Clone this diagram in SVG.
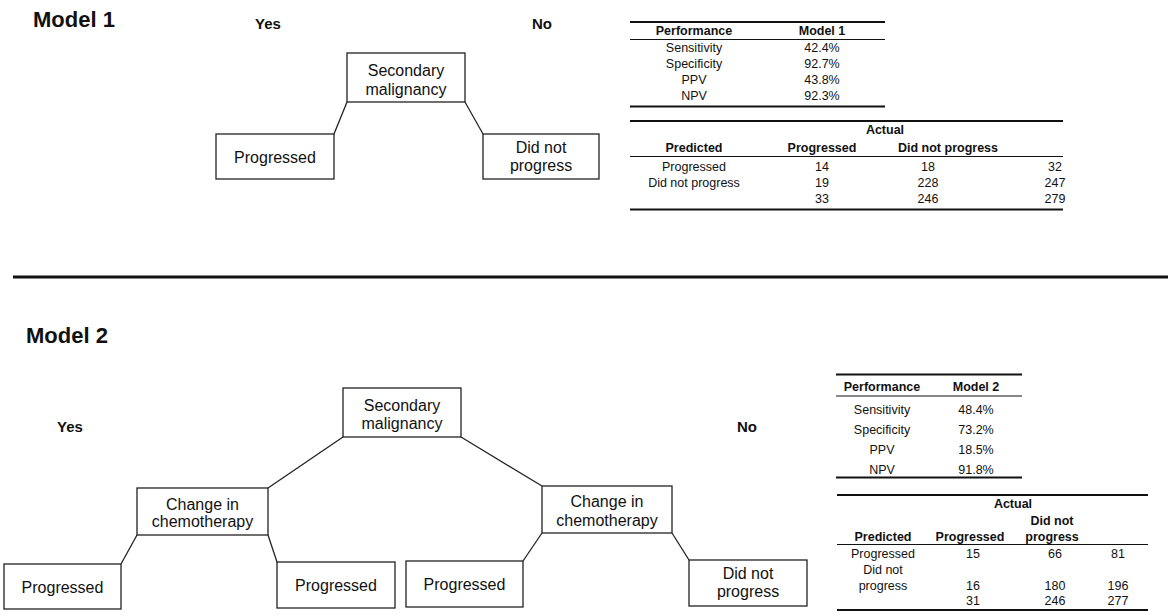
<svg xmlns="http://www.w3.org/2000/svg" width="1173" height="616" viewBox="0 0 1173 616">
<style>
text{font-family:"Liberation Sans",Arial,sans-serif;fill:#111}
.title{font-size:22px;font-weight:bold}
.yn{font-size:15px;font-weight:bold}
.node rect{fill:#fff;stroke:#222;stroke-width:1.3}
.node text{font-size:16px;text-anchor:middle}
.conn line{stroke:#222;stroke-width:1.3}
.tb text{font-size:12.5px;text-anchor:middle}
.tb .h{font-weight:bold}
.thick{stroke:#111;stroke-width:2}
.thin{stroke:#111;stroke-width:1}
</style>
<rect width="1173" height="616" fill="#fff"/>

<text class="title" x="33" y="27">Model 1</text>
<text class="yn" x="255" y="29">Yes</text>
<text class="yn" x="532" y="29">No</text>

<g class="conn" id="connectors1">
<line x1="347" y1="102" x2="334" y2="134"/>
<line x1="465" y1="102" x2="483" y2="134"/>
</g>
<g class="node" id="m1-secondary"><rect x="347" y="53" width="118" height="49"/><text x="406" y="76">Secondary</text><text x="406" y="95">malignancy</text></g>
<g class="node" id="m1-progressed"><rect x="216" y="134" width="118" height="45"/><text x="275" y="162.5">Progressed</text></g>
<g class="node" id="m1-notprogress"><rect x="483" y="134" width="116" height="45"/><text x="541" y="152.5">Did not</text><text x="541" y="170.5">progress</text></g>

<g class="tb" id="m1-perf">
<line class="thick" x1="630" y1="22" x2="885" y2="22"/>
<text class="h" x="694" y="35">Performance</text><text class="h" x="822" y="35">Model 1</text>
<line class="thin" x1="630" y1="39.5" x2="885" y2="39.5"/>
<text x="694" y="52">Sensitivity</text><text x="822" y="52">42.4%</text>
<text x="694" y="68">Specificity</text><text x="822" y="68">92.7%</text>
<text x="694" y="84">PPV</text><text x="822" y="84">43.8%</text>
<text x="694" y="100">NPV</text><text x="822" y="100">92.3%</text>
<line class="thick" x1="630" y1="106.5" x2="885" y2="106.5"/>
</g>

<g class="tb" id="m1-confusion">
<line class="thick" x1="630" y1="121" x2="1063" y2="121"/>
<text class="h" x="885" y="134">Actual</text>
<text class="h" x="694" y="152">Predicted</text><text class="h" x="822" y="152">Progressed</text><text class="h" x="948" y="152">Did not progress</text>
<line class="thin" x1="630" y1="156.5" x2="1063" y2="156.5"/>
<text x="694" y="171">Progressed</text><text x="822" y="171">14</text><text x="928" y="171">18</text><text x="1055" y="171">32</text>
<text x="694" y="187">Did not progress</text><text x="822" y="187">19</text><text x="928" y="187">228</text><text x="1055" y="187">247</text>
<text x="822" y="203">33</text><text x="928" y="203">246</text><text x="1055" y="203">279</text>
<line class="thick" x1="630" y1="209.5" x2="1063" y2="209.5"/>
</g>

<line x1="13" y1="277" x2="1168" y2="277" stroke="#111" stroke-width="3"/>

<text class="title" x="26" y="343">Model 2</text>
<text class="yn" x="57" y="432">Yes</text>
<text class="yn" x="737" y="432">No</text>

<g class="conn" id="connectors2">
<line x1="343" y1="437" x2="268" y2="488"/>
<line x1="461" y1="437" x2="542" y2="486"/>
<line x1="137" y1="535" x2="121" y2="564"/>
<line x1="268" y1="535" x2="277" y2="562"/>
<line x1="542" y1="533" x2="523" y2="561"/>
<line x1="672" y1="533" x2="689" y2="560"/>
</g>
<g class="node" id="m2-secondary"><rect x="343" y="388" width="118" height="49"/><text x="402" y="411">Secondary</text><text x="402" y="428.5">malignancy</text></g>
<g class="node" id="m2-chemo-left"><rect x="137" y="488" width="131" height="47"/><text x="202.5" y="509.5">Change in</text><text x="202.5" y="527">chemotherapy</text></g>
<g class="node" id="m2-chemo-right"><rect x="542" y="486" width="130" height="47"/><text x="607" y="507">Change in</text><text x="607" y="525.5">chemotherapy</text></g>
<g class="node" id="m2-prog1"><rect x="4" y="564" width="117" height="45"/><text x="62.5" y="592.5">Progressed</text></g>
<g class="node" id="m2-prog2"><rect x="277" y="562" width="118" height="46"/><text x="336" y="591">Progressed</text></g>
<g class="node" id="m2-prog3"><rect x="406" y="561" width="117" height="46"/><text x="464.5" y="590">Progressed</text></g>
<g class="node" id="m2-notprogress"><rect x="689" y="560" width="118" height="46"/><text x="748" y="578.5">Did not</text><text x="748" y="597">progress</text></g>

<g class="tb" id="m2-perf">
<line class="thick" x1="836" y1="374.5" x2="1022" y2="374.5"/>
<text class="h" x="882" y="391">Performance</text><text class="h" x="976" y="391">Model 2</text>
<line class="thin" x1="836" y1="396" x2="1022" y2="396"/>
<text x="882" y="413.5">Sensitivity</text><text x="976" y="413.5">48.4%</text>
<text x="882" y="434">Specificity</text><text x="976" y="434">73.2%</text>
<text x="882" y="454">PPV</text><text x="976" y="454">18.5%</text>
<text x="882" y="473.5">NPV</text><text x="976" y="473.5">91.8%</text>
<line class="thick" x1="836" y1="477.5" x2="1022" y2="477.5"/>
</g>

<g class="tb" id="m2-confusion">
<line class="thick" x1="837" y1="495" x2="1148" y2="495"/>
<text class="h" x="1013" y="508">Actual</text>
<text class="h" x="1052" y="525">Did not</text>
<text class="h" x="883" y="541">Predicted</text><text class="h" x="970" y="541">Progressed</text><text class="h" x="1052" y="541">progress</text>
<line class="thin" x1="837" y1="544.5" x2="1148" y2="544.5"/>
<text x="883" y="557.5">Progressed</text><text x="973" y="557.5">15</text><text x="1055" y="557.5">66</text><text x="1118" y="557.5">81</text>
<text x="883" y="573.5">Did not</text>
<text x="883" y="589.5">progress</text><text x="973" y="589.5">16</text><text x="1055" y="589.5">180</text><text x="1118" y="589.5">196</text>
<text x="973" y="605">31</text><text x="1055" y="605">246</text><text x="1118" y="605">277</text>
<line class="thick" x1="837" y1="610" x2="1148" y2="610"/>
</g>
</svg>
